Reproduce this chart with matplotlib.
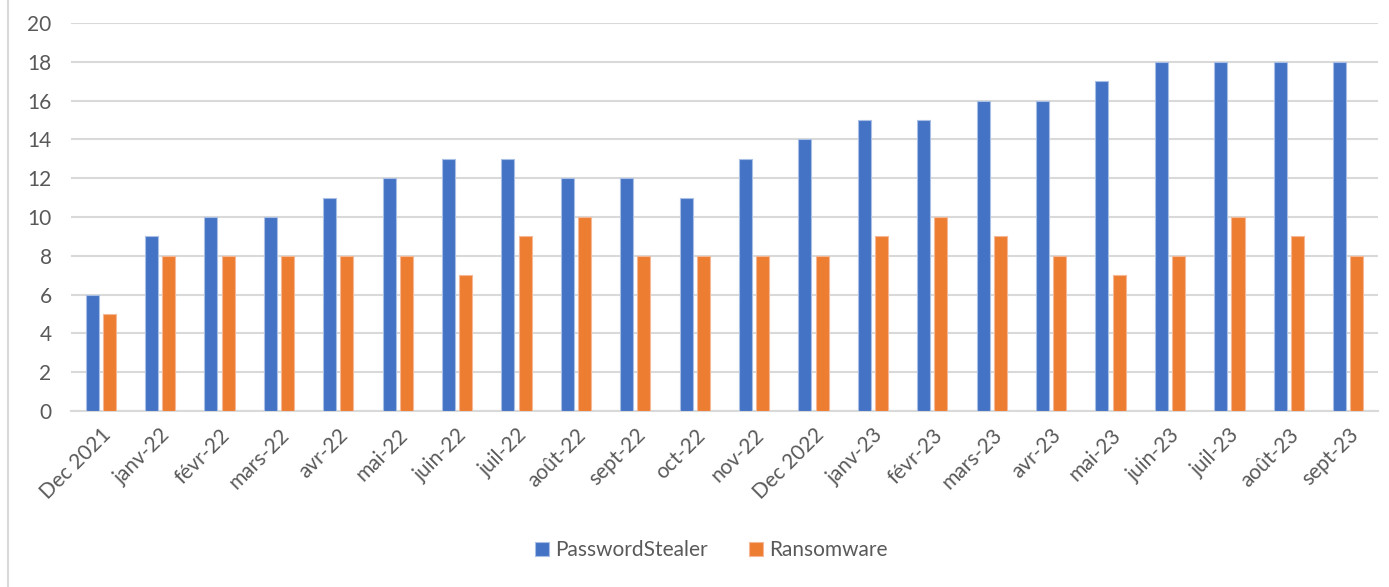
import matplotlib.pyplot as plt
import numpy as np
from matplotlib.lines import Line2D

plt.rcParams['font.family'] = ['Lato', 'DejaVu Sans']

# data
mois = ['Dec 2021', 'janv-22', 'févr-22', 'mars-22', 'avr-22', 'mai-22', 'juin-22',
        'juil-22', 'août-22', 'sept-22', 'oct-22', 'nov-22', 'Dec 2022', 'janv-23',
        'févr-23', 'mars-23', 'avr-23', 'mai-23', 'juin-23', 'juil-23', 'août-23', 'sept-23']
password_stealer = [6, 9, 10, 10, 11, 12, 13, 13, 12, 12, 11, 13, 14, 15, 15, 16, 16, 17, 18, 18, 18, 18]
ransomware = [5, 8, 8, 8, 8, 8, 7, 9, 10, 8, 8, 8, 8, 9, 10, 9, 8, 7, 8, 10, 9, 8]

bleu = '#4472C4'
orange = '#ED7D31'
gris = '#595959'

fig = plt.figure(figsize=(13.89, 5.87), dpi=100)
ax = fig.add_axes([0.0511, 0.2998, 0.9409, 0.661])

x = np.arange(len(mois))
w = 0.22
ax.bar(x - 0.145, password_stealer, w, color=bleu, edgecolor='#a9bfe6', linewidth=0.8,
       label='PasswordStealer', zorder=3)
ax.bar(x + 0.145, ransomware, w, color=orange, edgecolor='#f5b896', linewidth=0.8,
       label='Ransomware', zorder=3)

ax.set_xlim(-0.5, len(mois) - 0.5)
ax.set_ylim(0, 20)
ax.set_yticks(range(0, 21, 2))
ax.yaxis.grid(True, color='#d9d9d9', linewidth=1.5, zorder=0)
ax.set_axisbelow(True)

for s in ['top', 'right', 'left']:
    ax.spines[s].set_visible(False)
ax.spines['bottom'].set_color('#d9d9d9')
ax.spines['bottom'].set_linewidth(1.5)

ax.set_xticks(x)
ax.set_xticklabels(mois, rotation=45, ha='right', rotation_mode='anchor')
ax.tick_params(axis='x', length=0, pad=10, labelsize=15, labelcolor=gris)
ax.tick_params(axis='y', length=0, pad=14, labelsize=15, labelcolor=gris)

leg = fig.legend(loc='center', bbox_to_anchor=(0.512, 0.063), ncol=2, frameon=False,
                 fontsize=15, handlelength=0.65, handleheight=0.65, handletextpad=0.3,
                 columnspacing=2.0)
for t in leg.get_texts():
    t.set_color(gris)

# bordure gauche du graphique
fig.add_artist(Line2D([0.0055, 0.0055], [0, 1], transform=fig.transFigure,
                      color='#d9d9d9', linewidth=1.5))

fig.savefig('out.png', dpi=100)
